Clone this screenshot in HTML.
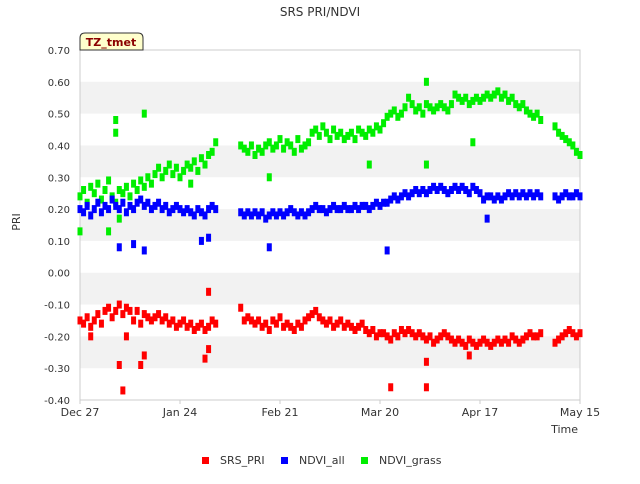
<!DOCTYPE html>
<html><head><meta charset="utf-8"><style>
body{margin:0;background:#fff;font-family:"DejaVu Sans","Liberation Sans",sans-serif;}
svg text{font-family:"DejaVu Sans","Liberation Sans",sans-serif;}
</style></head><body>
<svg id="chart" width="640" height="480">
<text x="320" y="16" text-anchor="middle" font-size="12" fill="#333">SRS PRI/NDVI</text>
<g id="bands"></g>
<rect x="80" y="50" width="500" height="350" fill="none" stroke="#ccc"/>
<g id="yticks"></g><g id="xticks"></g><g id="marks"></g>
<path d="M80,50 V38 Q80,33 85,33 H138 Q143,33 143,38 V50 Z" fill="#ffffcc" stroke="#333"/>
<text x="111" y="46" text-anchor="middle" font-size="11" font-weight="bold" fill="#8b0000">TZ_tmet</text>
<text x="20" y="222" transform="rotate(-90 20 222)" text-anchor="middle" font-size="11" fill="#333">PRI</text>
<text x="578" y="433" text-anchor="end" font-size="11" fill="#333">Time</text>
<g>
<rect x="202" y="457" width="7" height="7" fill="#ff0000"/>
<text x="220" y="464" font-size="11" fill="#333">SRS_PRI</text>
<rect x="281" y="457" width="7" height="7" fill="#0000ff"/>
<text x="299" y="464" font-size="11" fill="#333">NDVI_all</text>
<rect x="361" y="457" width="7" height="7" fill="#00ee00"/>
<text x="379" y="464" font-size="11" fill="#333">NDVI_grass</text>
</g>
</svg>
<script>
const yTicks=[-0.40,-0.30,-0.20,-0.10,0.00,0.10,0.20,0.30,0.40,0.50,0.60,0.70];
const xTickDays=[0,28,56,84,112,140];
const xTickLabels=["Dec 27","Jan 24","Feb 21","Mar 20","Apr 17","May 15"];
const N=null;
const srsPri=[-0.15,-0.16,-0.14,-0.17,-0.15,-0.13,-0.16,-0.12,-0.11,-0.14,
-0.12,-0.10,-0.13,-0.11,-0.12,-0.15,-0.12,-0.16,-0.13,-0.14,
-0.15,-0.14,-0.13,-0.15,-0.14,-0.16,-0.15,-0.17,-0.16,-0.15,
-0.17,-0.16,-0.18,-0.17,-0.16,-0.18,-0.17,-0.15,-0.16,N,N,N,N,N,N,
-0.11,-0.15,-0.14,-0.15,-0.16,-0.15,-0.17,-0.16,-0.18,-0.15,
-0.16,-0.14,-0.17,-0.16,-0.17,-0.18,-0.16,-0.17,-0.15,-0.14,
-0.13,-0.12,-0.14,-0.15,-0.16,-0.15,-0.17,-0.16,-0.15,-0.17,
-0.16,-0.17,-0.18,-0.17,-0.16,-0.18,-0.19,-0.18,-0.20,-0.19,
-0.19,-0.20,-0.21,-0.19,-0.20,-0.18,-0.19,-0.18,-0.19,-0.20,
-0.19,-0.20,-0.21,-0.20,-0.22,-0.21,-0.20,-0.19,-0.20,-0.21,
-0.22,-0.21,-0.22,-0.23,-0.21,-0.22,-0.23,-0.22,-0.21,-0.22,
-0.23,-0.22,-0.21,-0.22,-0.21,-0.22,-0.20,-0.21,-0.22,-0.21,
-0.20,-0.19,-0.20,-0.20,-0.19,N,N,N,
-0.22,-0.21,-0.20,-0.19,-0.18,-0.19,-0.20,-0.19];
const ndviAll=[0.20,0.19,0.21,0.18,0.20,0.22,0.19,0.21,0.20,0.23,
0.21,0.20,0.22,0.19,0.21,0.20,0.22,0.23,0.21,0.22,
0.20,0.21,0.22,0.20,0.21,0.19,0.20,0.21,0.20,0.19,
0.20,0.19,0.18,0.20,0.19,0.18,0.20,0.21,0.20,N,N,N,N,N,N,
0.19,0.18,0.19,0.18,0.19,0.18,0.19,0.17,0.18,0.19,
0.18,0.19,0.18,0.19,0.20,0.19,0.18,0.19,0.18,0.19,
0.20,0.21,0.20,0.20,0.19,0.20,0.21,0.20,0.20,0.21,
0.20,0.20,0.21,0.20,0.21,0.21,0.20,0.21,0.22,0.21,
0.22,0.22,0.23,0.24,0.23,0.24,0.25,0.24,0.25,0.26,
0.25,0.26,0.25,0.26,0.27,0.26,0.27,0.26,0.25,0.26,
0.27,0.26,0.27,0.26,0.25,0.27,0.26,0.25,0.23,0.24,
0.24,0.23,0.24,0.23,0.24,0.25,0.24,0.25,0.24,0.25,
0.24,0.25,0.24,0.25,0.24,N,N,N,
0.24,0.23,0.24,0.25,0.24,0.24,0.25,0.24];
const ndviGrass=[0.24,0.26,0.22,0.27,0.25,0.28,0.23,0.26,0.29,0.24,
0.22,0.26,0.25,0.27,0.24,0.28,0.26,0.29,0.27,0.30,
0.28,0.31,0.33,0.30,0.32,0.34,0.31,0.33,0.30,0.32,
0.34,0.33,0.35,0.32,0.36,0.34,0.37,0.38,0.41,N,N,N,N,N,N,
0.40,0.39,0.38,0.40,0.37,0.39,0.38,0.40,0.41,0.39,
0.40,0.42,0.39,0.41,0.40,0.38,0.42,0.39,0.40,0.41,
0.44,0.45,0.43,0.46,0.44,0.42,0.45,0.43,0.44,0.42,
0.43,0.44,0.42,0.45,0.44,0.43,0.45,0.44,0.46,0.45,
0.47,0.49,0.50,0.51,0.49,0.50,0.52,0.55,0.53,0.51,
0.52,0.50,0.53,0.52,0.51,0.52,0.53,0.52,0.51,0.53,
0.56,0.55,0.54,0.55,0.53,0.54,0.55,0.54,0.55,0.56,
0.55,0.56,0.57,0.55,0.56,0.54,0.55,0.53,0.52,0.53,
0.51,0.50,0.49,0.50,0.48,N,N,N,
0.46,0.44,0.43,0.42,0.41,0.40,0.38,0.37];
const srsOutDays=[12,11,17,18,36,36,35,87,97,97,109,13,3];
const srsOutVals=[-0.37,-0.29,-0.29,-0.26,-0.06,-0.24,-0.27,-0.36,-0.36,-0.28,-0.26,-0.20,-0.20];
const allOutDays=[11,15,18,36,53,86,114,34];
const allOutVals=[0.08,0.09,0.07,0.11,0.08,0.07,0.17,0.10];
const grassOutDays=[10,18,10,8,0,53,97,97,81,110,11,31];
const grassOutVals=[0.48,0.50,0.44,0.13,0.13,0.30,0.60,0.34,0.34,0.41,0.17,0.28];

const NS="http://www.w3.org/2000/svg";
const X=d=>80+d*500/140;
const Y=v=>50+(0.70-v)*350/1.10;
const bands=document.getElementById('bands');
for(let i=0;i<yTicks.length-1;i++){
  if(i%2===1){
    const r=document.createElementNS(NS,'rect');
    r.setAttribute('x',80);r.setAttribute('y',Y(yTicks[i+1]));
    r.setAttribute('width',500);r.setAttribute('height',Y(yTicks[i])-Y(yTicks[i+1]));
    r.setAttribute('fill','#f2f2f2');
    
    
    bands.appendChild(r);
  }
}
const yt=document.getElementById('yticks');
yTicks.forEach(v=>{
  const t=document.createElementNS(NS,'text');
  t.setAttribute('x',70);t.setAttribute('y',Y(v)+4);
  t.setAttribute('text-anchor','end');t.setAttribute('font-size','10');t.setAttribute('fill','#333');
  t.textContent=v.toFixed(2);
  
  
  yt.appendChild(t);
});
const xt=document.getElementById('xticks');
xTickDays.forEach((d,i)=>{
  const t=document.createElementNS(NS,'text');
  t.setAttribute('x',X(d));t.setAttribute('y',416);
  t.setAttribute('text-anchor','middle');t.setAttribute('font-size','11');t.setAttribute('fill','#333');
  t.textContent=xTickLabels[i];
  
  
  xt.appendChild(t);
  const l=document.createElementNS(NS,'line');
  l.setAttribute('x1',X(d));l.setAttribute('x2',X(d));l.setAttribute('y1',400);l.setAttribute('y2',404);
  l.setAttribute('stroke','#ccc');
  
  
  xt.appendChild(l);
});
const marks=document.getElementById('marks');
function pt(d,v,c,name){
  const r=document.createElementNS(NS,'rect');
  r.setAttribute('x',X(d)-2.5);r.setAttribute('y',Y(v)-4);
  r.setAttribute('width',5);r.setAttribute('height',8);r.setAttribute('fill',c);
  
  
  marks.appendChild(r);
}
function series(vals,c,name){vals.forEach((v,d)=>{if(v!==null)pt(d,v,c,name);});}
series(ndviGrass,'#00ee00','ndvi-grass-point');
grassOutDays.forEach((d,i)=>pt(d,grassOutVals[i],'#00ee00','ndvi-grass-point'));
series(ndviAll,'#0000ff','ndvi-all-point');
allOutDays.forEach((d,i)=>pt(d,allOutVals[i],'#0000ff','ndvi-all-point'));
series(srsPri,'#ff0000','srs-pri-point');
srsOutDays.forEach((d,i)=>pt(d,srsOutVals[i],'#ff0000','srs-pri-point'));
</script>
</body></html>
